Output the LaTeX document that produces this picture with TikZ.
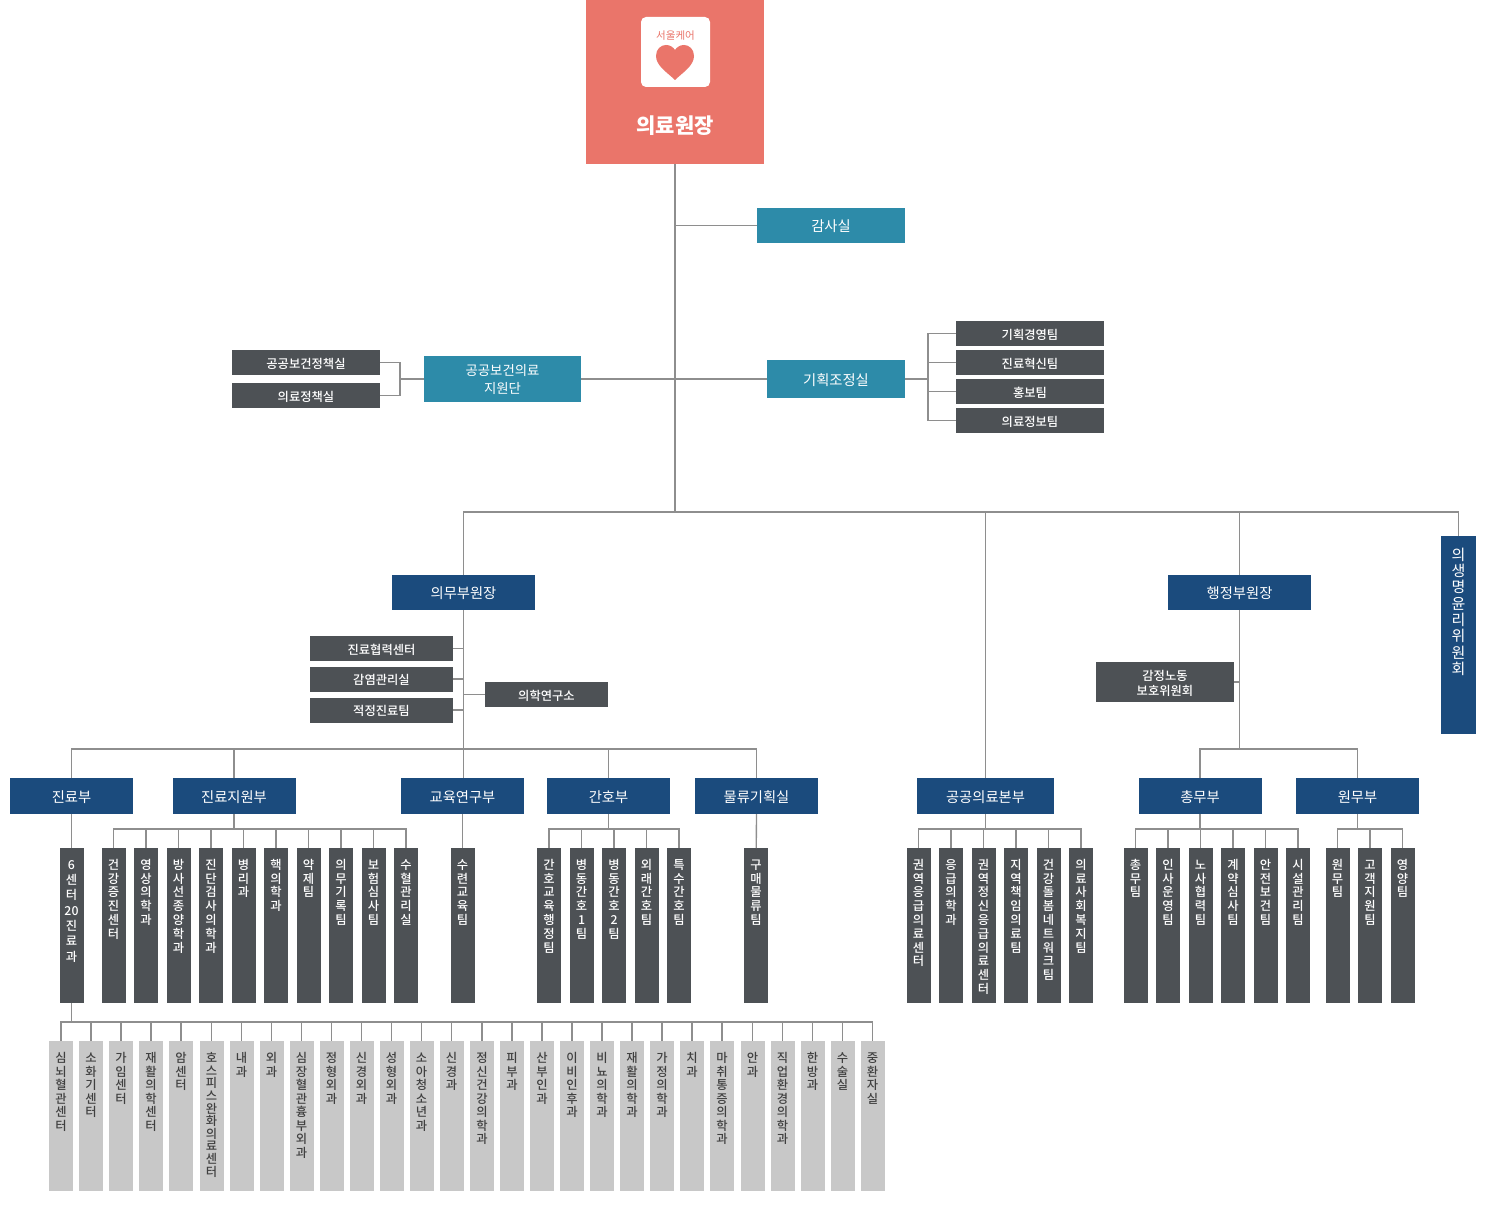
\documentclass[tikz,border=0pt]{standalone}
\usepackage{fontspec}
\usepackage{tikz}
\setmainfont{Noto Sans CJK KR}
\newfontfamily\medfont{Noto Sans CJK KR Medium}
\definecolor{coral}{HTML}{EA756A}
\definecolor{teal2}{HTML}{2D8BA9}
\definecolor{navy2}{HTML}{1B4B7D}
\definecolor{slate}{HTML}{4D5155}
\definecolor{pale}{HTML}{C8C8C8}
\definecolor{wire}{HTML}{8E8E8E}
\newdimen\barh
\newdimen\barb
\makeatletter
\newcommand{\vtxt}[2][13.8pt]{\vbox to \barh{\hsize=24pt\offinterlineskip\vskip\dimexpr\barb-#1\relax
    \@tfor\vch:=#2\do{\hbox to \hsize{\hss\rule{0pt}{#1}\smash{\vch}\hss}}\vss}}
\makeatother

\begin{document}
\begin{tikzpicture}[x=1pt,y=-1pt,
    wiring/.style={draw=wire,line width=1.3pt},
    big/.style={font=\fontsize{14.3}{17}\selectfont},
    small/.style={font=\fontsize{12.3}{15}\selectfont\medfont},
    tealbox/.style={fill=teal2,text=white,inner sep=0pt,align=center,big,text height=13.5pt,text depth=1pt},
    navybox/.style={fill=navy2,text=white,inner sep=0pt,align=center,minimum width=123pt,minimum height=36pt,big,text height=13.5pt,text depth=1pt},
    darkbox/.style={fill=slate,text=white,inner sep=0pt,align=center,minimum width=148pt,minimum height=25pt,small,text height=12pt,text depth=1pt},
    darkbar/.style={fill=slate,text=white,inner sep=0pt,anchor=north,minimum width=24pt,minimum height=155pt,small,execute at begin node={\barh=155pt\barb=21pt}},
    palebar/.style={fill=pale,text=black!75,inner sep=0pt,anchor=north,minimum width=24pt,minimum height=150pt,small,execute at begin node={\barh=150pt\barb=21.5pt}}]
    \useasboundingbox (0,0) rectangle (1498,1222);

    % top box
    \node[fill=coral,minimum width=178pt,minimum height=164pt,inner sep=0pt] (head) at (675,82) {};
    \node[fill=white,rounded corners=5pt,minimum width=69pt,minimum height=70pt,inner sep=0pt] (logo) at (675.5,52) {};
    \node[text=coral,font=\fontsize{10.5}{12}\selectfont,inner sep=0pt] (logotxt) at (675.5,35.5) {서울케어};
    \fill[coral] (675,80) .. controls (668,73) and (656,66) .. (656,56) .. controls (656,49) and (661,45) .. (666,45)
        .. controls (670,45) and (673,47) .. (675,50) .. controls (677,47) and (680,45) .. (684,45)
        .. controls (689,45) and (694,49) .. (694,56) .. controls (694,66) and (682,73) .. (675,80) -- cycle;
    \node[text=white,font=\fontsize{21}{24}\selectfont\bfseries,inner sep=0pt] (headtxt) at (675,125.5) {의료원장};

    % staff offices
    \node[tealbox,minimum width=148pt,minimum height=35pt] (audit) at (831,225.5) {감사실};
    \node[tealbox,minimum width=157pt,minimum height=46pt,font=\fontsize{13.4}{18}\selectfont,text height=,text depth=] (support) at (502.5,379) {공공보건의료\\지원단};
    \node[tealbox,minimum width=138pt,minimum height=38pt] (plan) at (836,379) {기획조정실};
    \node[darkbox] (s1) at (306,362.5) {공공보건정책실};
    \node[darkbox] (s2) at (306,395.5) {의료정책실};
    \node[darkbox] (p1) at (1030,333.5) {기획경영팀};
    \node[darkbox] (p2) at (1030,362.5) {진료혁신팀};
    \node[darkbox] (p3) at (1030,391.5) {홍보팀};
    \node[darkbox] (p4) at (1030,420.5) {의료정보팀};

    % vice directors
    \node[navybox,minimum width=143pt,minimum height=35pt] (vmed) at (463.5,592.5) {의무부원장};
    \node[navybox,minimum width=143pt,minimum height=35pt] (vadm) at (1239.5,592.5) {행정부원장};
    \node[fill=navy2,text=white,inner sep=0pt,anchor=north,minimum width=35pt,minimum height=198pt,font=\fontsize{15}{18}\selectfont,execute at begin node={\barh=198pt\barb=24pt}] (ethics) at (1458.5,536) {\vtxt[16.3pt]{의생명윤리위원회}};
    \node[darkbox,minimum width=143pt] (m1) at (381.5,648.5) {진료협력센터};
    \node[darkbox,minimum width=143pt] (m2) at (381.5,679) {감염관리실};
    \node[darkbox,minimum width=143pt] (m3) at (381.5,710) {적정진료팀};
    \node[darkbox,minimum width=123pt] (m4) at (546.5,694.5) {의학연구소};
    \node[darkbox,minimum width=138pt,minimum height=40pt,text height=,text depth=] (a1) at (1165,682) {\rule{0pt}{14pt}감정노동\\보호위원회};

    % departments
    \node[navybox] (d1) at (71.5,796) {진료부};
    \node[navybox] (d2) at (234,796) {진료지원부};
    \node[navybox] (d3) at (462.5,796) {교육연구부};
    \node[navybox] (d4) at (608.5,796) {간호부};
    \node[navybox] (d5) at (756.5,796) {물류기획실};
    \node[navybox,minimum width=137pt] (d6) at (985.5,796) {공공의료본부};
    \node[navybox] (d7) at (1200,796) {총무부};
    \node[navybox] (d8) at (1357.5,796) {원무부};

    % teams under the departments
    \node[darkbar] (t1) at (71.5,848) {\vtxt[15.3pt]{6센터{20}진료과}};
    \node[darkbar] (b1) at (113.5,848) {\vtxt{건강증진센터}};
    \node[darkbar] (b2) at (146,848) {\vtxt{영상의학과}};
    \node[darkbar] (b3) at (178.5,848) {\vtxt{방사선종양학과}};
    \node[darkbar] (b4) at (211,848) {\vtxt{진단검사의학과}};
    \node[darkbar] (b5) at (243.5,848) {\vtxt{병리과}};
    \node[darkbar] (b6) at (276,848) {\vtxt{핵의학과}};
    \node[darkbar] (b7) at (308.5,848) {\vtxt{약제팀}};
    \node[darkbar] (b8) at (341,848) {\vtxt{의무기록팀}};
    \node[darkbar] (b9) at (373.5,848) {\vtxt{보험심사팀}};
    \node[darkbar] (b10) at (406,848) {\vtxt{수혈관리실}};
    \node[darkbar] (e1) at (462.5,848) {\vtxt{수련교육팀}};
    \node[darkbar] (n1) at (549,848) {\vtxt{간호교육행정팀}};
    \node[darkbar] (n2) at (581.5,848) {\vtxt{병동간호1팀}};
    \node[darkbar] (n3) at (614,848) {\vtxt{병동간호2팀}};
    \node[darkbar] (n4) at (646.5,848) {\vtxt{외래간호팀}};
    \node[darkbar] (n5) at (679,848) {\vtxt{특수간호팀}};
    \node[darkbar] (l1) at (756,848) {\vtxt{구매물류팀}};
    \node[darkbar] (g1) at (918.5,848) {\vtxt{권역응급의료센터}};
    \node[darkbar] (g2) at (951,848) {\vtxt{응급의학과}};
    \node[darkbar] (g3) at (983.5,848) {\vtxt{권역정신응급의료센터}};
    \node[darkbar] (g4) at (1016,848) {\vtxt{지역책임의료팀}};
    \node[darkbar] (g5) at (1048.5,848) {\vtxt{건강돌봄네트워크팀}};
    \node[darkbar] (g6) at (1081,848) {\vtxt{의료사회복지팀}};
    \node[darkbar] (o1) at (1135.5,848) {\vtxt{총무팀}};
    \node[darkbar] (o2) at (1168,848) {\vtxt{인사운영팀}};
    \node[darkbar] (o3) at (1200.5,848) {\vtxt{노사협력팀}};
    \node[darkbar] (o4) at (1233,848) {\vtxt{계약심사팀}};
    \node[darkbar] (o5) at (1265.5,848) {\vtxt{안전보건팀}};
    \node[darkbar] (o6) at (1298,848) {\vtxt{시설관리팀}};
    \node[darkbar] (w1) at (1337.5,848) {\vtxt{원무팀}};
    \node[darkbar] (w2) at (1370,848) {\vtxt{고객지원팀}};
    \node[darkbar] (w3) at (1402.5,848) {\vtxt{영양팀}};

    % clinics
    \node[palebar] (c1) at (61,1041) {\vtxt[13.5pt]{심뇌혈관센터}};
    \node[palebar] (c2) at (91,1041) {\vtxt[13.5pt]{소화기센터}};
    \node[palebar] (c3) at (121,1041) {\vtxt[13.5pt]{가임센터}};
    \node[palebar] (c4) at (151,1041) {\vtxt[13.5pt]{재활의학센터}};
    \node[palebar] (c5) at (181,1041) {\vtxt[13.5pt]{암센터}};
    \node[palebar] (c6) at (211.5,1041) {\vtxt[12.6pt]{호스피스완화의료센터}};
    \node[palebar] (c7) at (241.5,1041) {\vtxt[13.5pt]{내과}};
    \node[palebar] (c8) at (271.5,1041) {\vtxt[13.5pt]{외과}};
    \node[palebar] (c9) at (301.5,1041) {\vtxt[13.5pt]{심장혈관흉부외과}};
    \node[palebar] (c10) at (331.5,1041) {\vtxt[13.5pt]{정형외과}};
    \node[palebar] (c11) at (361.5,1041) {\vtxt[13.5pt]{신경외과}};
    \node[palebar] (c12) at (391.5,1041) {\vtxt[13.5pt]{성형외과}};
    \node[palebar] (c13) at (421.5,1041) {\vtxt[13.5pt]{소아청소년과}};
    \node[palebar] (c14) at (451.5,1041) {\vtxt[13.5pt]{신경과}};
    \node[palebar] (c15) at (482,1041) {\vtxt[13.5pt]{정신건강의학과}};
    \node[palebar] (c16) at (512,1041) {\vtxt[13.5pt]{피부과}};
    \node[palebar] (c17) at (542,1041) {\vtxt[13.5pt]{산부인과}};
    \node[palebar] (c18) at (572,1041) {\vtxt[13.5pt]{이비인후과}};
    \node[palebar] (c19) at (602,1041) {\vtxt[13.5pt]{비뇨의학과}};
    \node[palebar] (c20) at (632,1041) {\vtxt[13.5pt]{재활의학과}};
    \node[palebar] (c21) at (662,1041) {\vtxt[13.5pt]{가정의학과}};
    \node[palebar] (c22) at (692,1041) {\vtxt[13.5pt]{치과}};
    \node[palebar] (c23) at (722,1041) {\vtxt[13.5pt]{마취통증의학과}};
    \node[palebar] (c24) at (752.5,1041) {\vtxt[13.5pt]{안과}};
    \node[palebar] (c25) at (782.5,1041) {\vtxt[13.5pt]{직업환경의학과}};
    \node[palebar] (c26) at (812.5,1041) {\vtxt[13.5pt]{한방과}};
    \node[palebar] (c27) at (842.5,1041) {\vtxt[13.5pt]{수술실}};
    \node[palebar] (c28) at (872.5,1041) {\vtxt[13.5pt]{중환자실}};

    % junctions
    \coordinate (main) at (675,512);
    \coordinate (joinS) at (400,379);
    \coordinate (joinP) at (928,379);
    \coordinate (joinM) at (463.5,749);
    \coordinate (joinA) at (1239.5,749);
    \coordinate (bus2) at (234,829);
    \coordinate (bus4) at (608.5,829);
    \coordinate (bus6) at (985.5,829);
    \coordinate (bus7) at (1200,829);
    \coordinate (bus8) at (1357.5,829);
    \coordinate (bus1) at (71.5,1022);

    % main lines
    \draw[wiring] (head) -- (main);
    \draw[wiring] (audit) -- (audit -| head);
    \draw[wiring] (support) -- (plan);
    \draw[wiring] (main) -| (vmed);
    \draw[wiring] (main) -| (d6);
    \draw[wiring] (main) -| (vadm);
    \draw[wiring] (main) -| (ethics);
    \draw[wiring] (support) -- (joinS);
    \draw[wiring] (joinS) |- (s1);
    \draw[wiring] (joinS) |- (s2);
    \draw[wiring] (plan) -- (joinP);
    \draw[wiring] (joinP) |- (p1);
    \draw[wiring] (joinP) |- (p2);
    \draw[wiring] (joinP) |- (p3);
    \draw[wiring] (joinP) |- (p4);

    \draw[wiring] (vmed) -- (joinM);
    \draw[wiring] (m1) -- (m1 -| vmed);
    \draw[wiring] (m2) -- (m2 -| vmed);
    \draw[wiring] (m3) -- (m3 -| vmed);
    \draw[wiring] (m4) -- (m4 -| vmed);
    \draw[wiring] (joinM) -| (d1);
    \draw[wiring] (joinM) -| (d2);
    \draw[wiring] (joinM) -- (joinM |- d3.north);
    \draw[wiring] (joinM) -| (d4);
    \draw[wiring] (joinM) -| (d5);
    \draw[wiring] (vadm) -- (joinA);
    \draw[wiring] (a1) -- (a1 -| vadm);
    \draw[wiring] (joinA) -| (d7);
    \draw[wiring] (joinA) -| (d8);

    % department lines
    \draw[wiring] (d1) -- (t1);
    \draw[wiring] (d2) -- (bus2);
    \draw[wiring] (bus2) -| (b1.north) (bus2) -| (b2.north) (bus2) -| (b3.north) (bus2) -| (b4.north) (bus2) -| (b5.north);
    \draw[wiring] (bus2) -| (b6.north) (bus2) -| (b7.north) (bus2) -| (b8.north) (bus2) -| (b9.north) (bus2) -| (b10.north);
    \draw[wiring] (d3) -- (e1);
    \draw[wiring] (d4) -- (bus4);
    \draw[wiring] (bus4) -| (n1.north) (bus4) -| (n2.north) (bus4) -| (n3.north) (bus4) -| (n4.north) (bus4) -| (n5.north);
    \draw[wiring] (d5) -- (l1);
    \draw[wiring] (d6) -- (bus6);
    \draw[wiring] (bus6) -| (g1.north) (bus6) -| (g2.north) (bus6) -| (g3.north) (bus6) -| (g4.north) (bus6) -| (g5.north) (bus6) -| (g6.north);
    \draw[wiring] (d7) -- (bus7);
    \draw[wiring] (bus7) -| (o1.north) (bus7) -| (o2.north) (bus7) -| (o3.north) (bus7) -| (o4.north) (bus7) -| (o5.north) (bus7) -| (o6.north);
    \draw[wiring] (d8) -- (bus8);
    \draw[wiring] (bus8) -| (w1.north) (bus8) -| (w2.north) (bus8) -| (w3.north);

    % clinic lines
    \draw[wiring] (t1) -- (bus1);
    \draw[wiring] (bus1) -| (c1.north) (bus1) -| (c2.north) (bus1) -| (c3.north) (bus1) -| (c4.north) (bus1) -| (c5.north) (bus1) -| (c6.north) (bus1) -| (c7.north);
    \draw[wiring] (bus1) -| (c8.north) (bus1) -| (c9.north) (bus1) -| (c10.north) (bus1) -| (c11.north) (bus1) -| (c12.north) (bus1) -| (c13.north) (bus1) -| (c14.north);
    \draw[wiring] (bus1) -| (c15.north) (bus1) -| (c16.north) (bus1) -| (c17.north) (bus1) -| (c18.north) (bus1) -| (c19.north) (bus1) -| (c20.north) (bus1) -| (c21.north);
    \draw[wiring] (bus1) -| (c22.north) (bus1) -| (c23.north) (bus1) -| (c24.north) (bus1) -| (c25.north) (bus1) -| (c26.north) (bus1) -| (c27.north) (bus1) -| (c28.north);
\end{tikzpicture}
\end{document}
